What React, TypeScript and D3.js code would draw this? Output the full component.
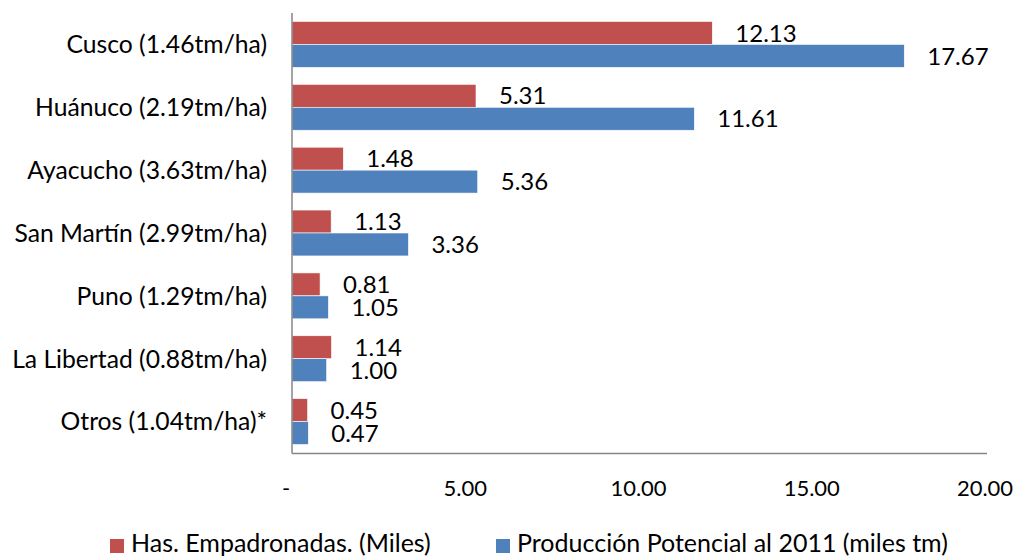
import React from "react";
import * as d3 from "d3";

const categories = [
  "Cusco (1.46tm/ha)",
  "Huánuco (2.19tm/ha)",
  "Ayacucho (3.63tm/ha)",
  "San Martín (2.99tm/ha)",
  "Puno (1.29tm/ha)",
  "La Libertad (0.88tm/ha)",
  "Otros (1.04tm/ha)*",
];
const hectares = [12.13, 5.31, 1.48, 1.13, 0.81, 1.14, 0.45];
const production = [17.67, 11.61, 5.36, 3.36, 1.05, 1.0, 0.47];
const xTicks = [0, 5, 10, 15, 20];
const seriesNames = [
  "Has. Empadronadas. (Miles)",
  "Producción Potencial al 2011 (miles tm)",
];
const seriesColors = ["#C0504D", "#4F81BD"];

const W = 1019;
const H = 557;
const FONT = "Lato, 'Open Sans', sans-serif";

export default function App() {
  const x = d3.scaleLinear().domain([0, 20]).range([292, 985]);
  const y = d3
    .scaleBand<string>()
    .domain(categories)
    .range([13, 453])
    .paddingInner(0.27)
    .paddingOuter(0.135);
  const bw = y.bandwidth() / 2;
  const fmt = (v: number) => (v === 0 ? "-" : d3.format(".2f")(v));
  const series = [hectares, production];

  return (
    <svg
      width={W}
      height={H}
      style={{ position: "absolute", left: 0, top: 0, background: "#fff" }}
      fontFamily={FONT}
    >
      <rect width={W} height={H} fill="#fff" />
      {series.map((vals, si) =>
        categories.map((c, i) => {
          const y0 = (y(c) as number) + si * bw;
          return (
            <g key={`${si}-${i}`}>
              <rect
                x={x(0)}
                y={y0}
                width={x(vals[i]) - x(0)}
                height={bw}
                fill={seriesColors[si]}
                stroke="#fff"
                strokeWidth={0.6}
              />
              <text
                x={x(vals[i]) + 23}
                y={y0 + bw / 2}
                dy="0.36em"
                fontSize={24}
                fill="#000"
              >
                {fmt(vals[i])}
              </text>
            </g>
          );
        })
      )}
      {/* axes */}
      <line x1={x(0)} x2={x(0)} y1={13} y2={453.5} stroke="#868686" strokeWidth={1.5} />
      <line x1={x(0)} x2={x(20) + 2} y1={453.5} y2={453.5} stroke="#868686" strokeWidth={1.5} />
      {categories.map((c) => (
        <text
          key={c}
          x={267}
          y={(y(c) as number) + y.bandwidth() / 2}
          dy="0.36em"
          textAnchor="end"
          fontSize={24.7}
          fill="#000"
        >
          {c}
        </text>
      ))}
      {xTicks.map((t) => (
        <text
          key={t}
          x={x(t) + (t === 0 ? -6 : 0)}
          y={488}
          dy="0.36em"
          textAnchor="middle"
          fontSize={22}
          fill="#000"
        >
          {fmt(t)}
        </text>
      ))}
      {/* legend */}
      {seriesNames.map((n, i) => {
        const lx = i === 0 ? 110 : 496;
        return (
          <g key={n}>
            <rect x={lx} y={539} width={14} height={14} fill={seriesColors[i]} />
            <text x={lx + 21} y={552} fontSize={25} fill="#000">
              {n}
            </text>
          </g>
        );
      })}
    </svg>
  );
}
